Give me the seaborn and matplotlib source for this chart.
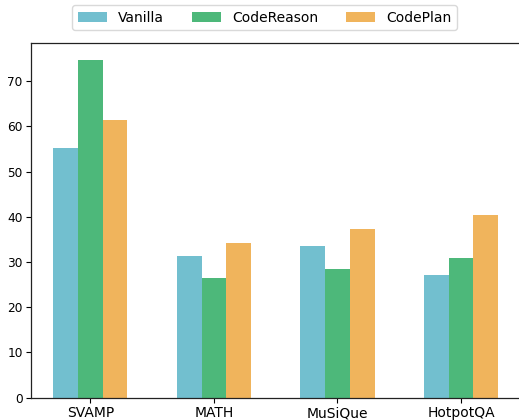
import matplotlib
matplotlib.use("Agg")
import matplotlib.pyplot as plt
import seaborn as sns
import pandas as pd

datasets = ["SVAMP", "MATH", "MuSiQue", "HotpotQA"]
methods = ["Vanilla", "CodeReason", "CodePlan"]
vanilla = [55.2, 31.4, 33.6, 27.2]
code_reason = [74.7, 26.4, 28.5, 30.8]
code_plan = [61.4, 34.3, 37.2, 40.4]
colors = ["#72bfcf", "#4db87a", "#f0b45c"]

rows = []
for m, vals in zip(methods, [vanilla, code_reason, code_plan]):
    for d, v in zip(datasets, vals):
        rows.append({"dataset": d, "method": m, "score": v})
df = pd.DataFrame(rows)

plt.rcParams["font.family"] = ["DejaVu Sans"]
W, H = 519, 420
fig = plt.figure(figsize=(W / 100, H / 100), dpi=100)
left, right, bottom, top = 31, 520.4, 397.7, 43
ax = fig.add_axes([left / W, (H - bottom) / H, (right - left) / W, (bottom - top) / H])

sns.barplot(data=df, x="dataset", y="score", hue="method", order=datasets,
            hue_order=methods, palette=colors, saturation=1, width=0.6,
            linewidth=0, ax=ax, legend=True)

ax.set_xlim(-0.48, len(datasets) - 1 + 0.48)
ymax = max(vanilla + code_reason + code_plan)
ax.set_ylim(0, ymax * 1.05)
ax.set_xlabel("")
ax.set_ylabel("")
ax.tick_params(axis="x", labelsize=10, length=3.5, pad=2.5)
ax.tick_params(axis="y", labelsize=8.7, length=3.5, pad=2.5)
for s in ax.spines.values():
    s.set_color("#222222")
    s.set_linewidth(0.9)

handles, labels = ax.get_legend_handles_labels()
ax.get_legend().remove()
fig.legend(handles, labels, loc="upper center", ncol=3,
           bbox_to_anchor=(264.5 / W, 1 - 5 / H), borderaxespad=0,
           fontsize=10, handlelength=2.1, handletextpad=0.8,
           columnspacing=2.0, frameon=True, edgecolor="#d0d0d0",
           fancybox=True)

fig.savefig("out.png", dpi=100)
